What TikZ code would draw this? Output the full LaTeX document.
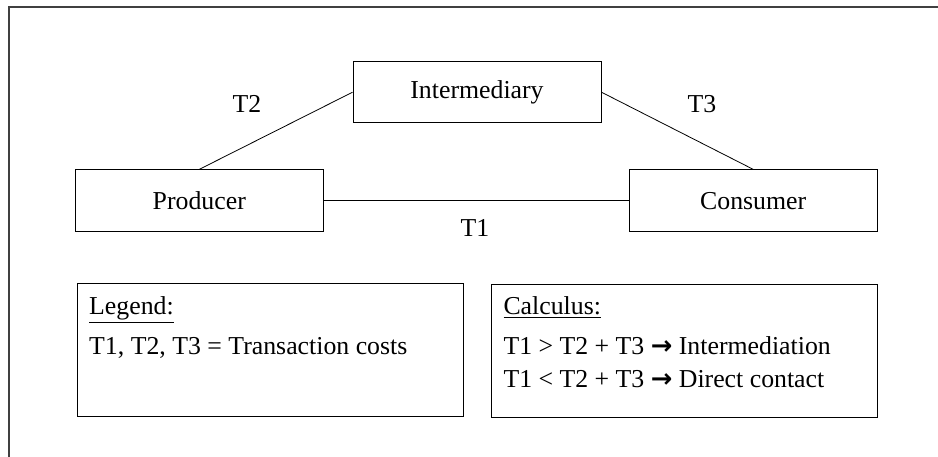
\documentclass[tikz,border=0pt]{standalone}
\usepackage{fontspec}
\setmainfont{Liberation Serif}
\newfontfamily\arrowfont{DejaVu Sans}
\newcommand{\rarr}{{\arrowfont\bfseries →}}
\tikzset{
  box/.style={draw, line width=0.9pt, rectangle, inner sep=0pt},
  conn/.style={draw, line width=0.8pt},
  lbl/.style={inner sep=0pt, anchor=base},
  txt/.style={inner sep=0pt, anchor=base west},
}
\begin{document}
\begin{tikzpicture}[x=1pt,y=-1pt,font=\fontsize{25.8}{30}\selectfont]
\useasboundingbox (0,0) rectangle (938,457);
% outer frame (open on right and bottom)
\coordinate (fbl) at (9,470);
\coordinate (ftl) at (9,7);
\coordinate (ftr) at (950,7);
\draw[line width=1.1pt, black!75] (fbl) -- (ftl) -- (ftr);
% nodes
\node[box, minimum width=248pt, minimum height=61pt] (inter) at (477,92.2) {Intermediary};
\node[box, minimum width=247.3pt, minimum height=62pt] (prod) at (199.3,200.8) {Producer};
\node[box, minimum width=247.7pt, minimum height=62pt] (cons) at (753.2,200.8) {Consumer};
% connectors
\draw[conn] (prod.north) -- (inter.west);
\draw[conn] (inter.east) -- (cons.north);
\draw[conn] (prod.east) -- (cons.west);
% labels
\node[lbl] (t2) at (247,112.3) {T2};
\node[lbl] (t3) at (702,112.3) {T3};
\node[lbl] (t1) at (475,236.7) {T1};
% legend box
\node[box, minimum width=386pt, minimum height=133pt] (legend) at (270,349.5) {};
\node[txt] (legtitle) at (89,315) {\underline{Legend:}};
\node[txt] (legtext) at (89,355) {T1, T2, T3 = Transaction costs};
% calculus box
\node[box, minimum width=386pt, minimum height=133pt] (calc) at (684,350.5) {};
\node[txt] (calctitle) at (503.3,315) {\underline{Calculus:}};
\node[txt] (calc1) at (503.3,355) {T1 > T2 + T3 \rarr\ Intermediation};
\node[txt] (calc2) at (503.3,387.7) {T1 < T2 + T3 \rarr\ Direct contact};
\end{tikzpicture}
\end{document}
